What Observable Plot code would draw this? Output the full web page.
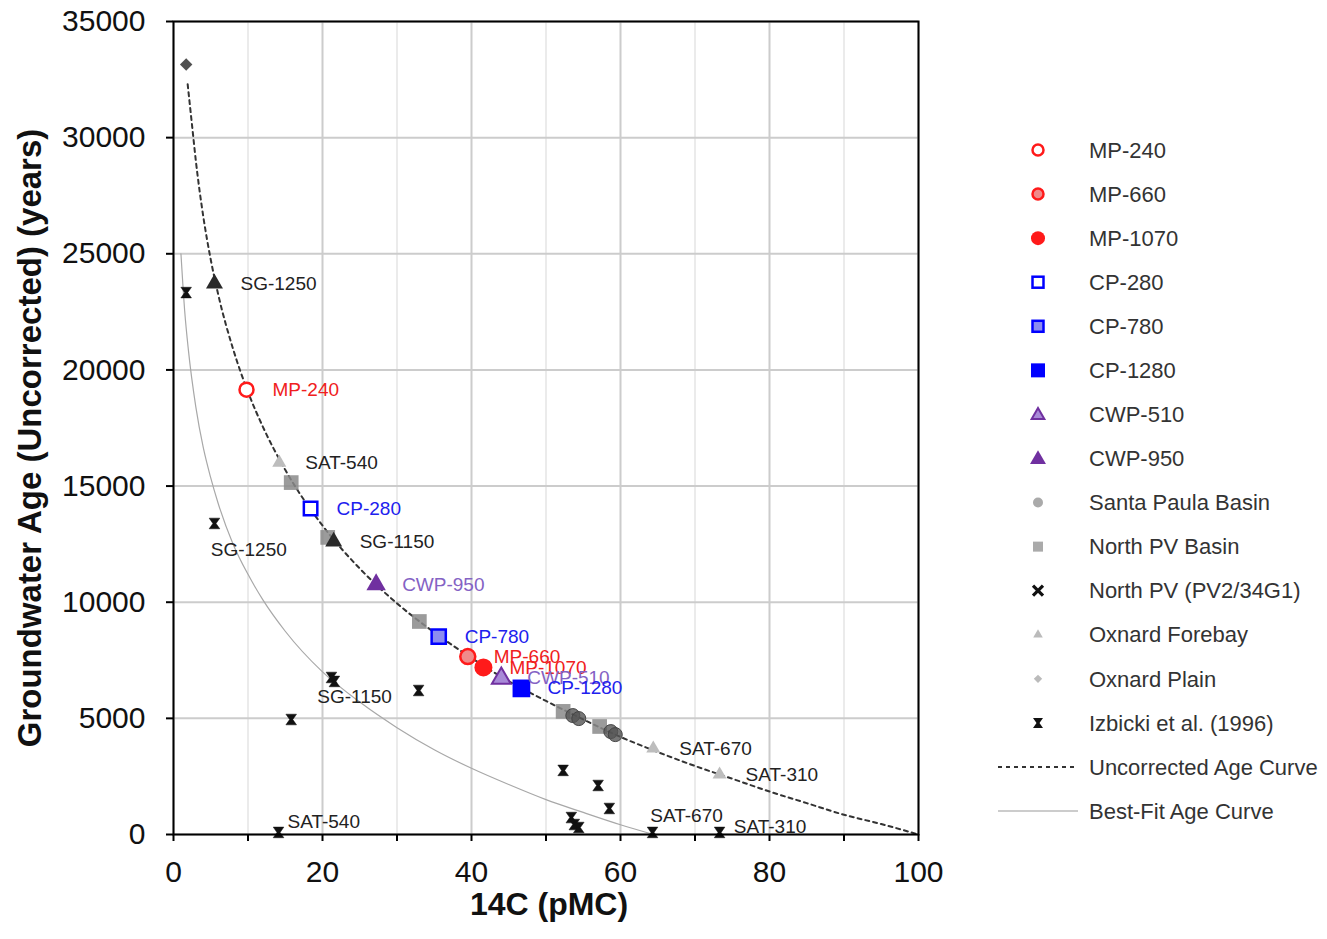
<!DOCTYPE html>
<html>
<head>
<meta charset="utf-8">
<script src="https://cdn.jsdelivr.net/npm/d3@7"></script>
<script src="https://cdn.jsdelivr.net/npm/@observablehq/plot@0.6"></script>
<style>
  html, body { margin: 0; padding: 0; background: white; }
  #wrap { position: relative; width: 1327px; height: 939px; font-family: "Liberation Sans", Arial, sans-serif; }
  #chart { position: absolute; left: 0; top: 0; }
  #legend { position: absolute; left: 990px; top: 0; }
</style>
</head>
<body>
<div id="wrap"><div id="chart"></div><svg id="legend" width="337" height="939"></svg></div>
<script>
// ---------- data: [14C pMC, age years] ----------
const mp240   = [[9.8, 19150]];
const mp660   = [[39.5, 7660]];
const mp1070  = [[41.6, 7190]];
const cp280   = [[18.4, 14030]];
const cp780   = [[35.6, 8520]];
const cp1280  = [[46.7, 6290]];
const cwp510  = [[44.0, 6720]];
const cwp950  = [[27.2, 10760]];
const santaPaulaBasin = [[53.6, 5120], [54.4, 4990], [58.7, 4430], [59.3, 4300]];
const northPVBasin    = [[15.8, 15150], [20.7, 12790], [33.0, 9170], [52.3, 5300], [57.2, 4650]];
const oxnardForebay   = [[14.2, 16010], [64.4, 3700], [73.3, 2580]];
const oxnardForebayNames = ["SAT-540", "SAT-670", "SAT-310"];
const oxnardPlain     = [[1.7, 33150]];
const sgWells         = [[5.5, 23720], [21.5, 12610]];
const sgWellNames     = ["SG-1250", "SG-1150"];
const izbicki = [[1.7, 23330], [5.5, 13390], [21.2, 6760], [21.6, 6590], [15.8, 4950], [32.9, 6200],
                 [52.3, 2760], [57.0, 2110], [58.5, 1120], [53.4, 730], [53.8, 430], [54.4, 300],
                 [14.1, 90], [64.3, 90], [73.3, 90]];
const izbickiLabelNames = ["SG-1250", "SG-1150", "SAT-540", "SAT-670", "SAT-310"];
const izbickiLabelPos   = [[5.0, 12270], [19.3, 5940], [15.3, 560], [64.0, 820], [75.2, 340]];

const uncorrectedCurve = [[1.9, 32300], [2.5, 30500], [3, 29000], [4, 26600], [5, 24750], [6, 23250],
  [8, 20900], [10, 19050], [12, 17550], [15, 15700], [20, 13300], [25, 11450], [30, 9950], [35, 8700],
  [40, 7600], [45, 6600], [50, 5750], [55, 4950], [60, 4200], [65, 3550], [70, 2950], [75, 2400],
  [80, 1850], [85, 1350], [90, 850], [95, 450], [100, 0]];
const bestFitCurve = [[1, 25000], [1.5, 22550], [2, 20850], [3, 18400], [4, 16650], [5, 15350], [6, 14250],
  [8, 12500], [10, 11200], [12, 10100], [15, 8750], [20, 7000], [25, 5700], [30, 4600], [35, 3650],
  [40, 2850], [45, 2150], [50, 1500], [55, 950], [60, 420], [64, 40]];

const xTicks = [0, 10, 20, 30, 40, 50, 60, 70, 80, 90, 100];
const yTicks = [0, 5000, 10000, 15000, 20000, 25000, 30000, 35000];

const legendNames = ["MP-240", "MP-660", "MP-1070", "CP-280", "CP-780", "CP-1280", "CWP-510", "CWP-950",
  "Santa Paula Basin", "North PV Basin", "North PV (PV2/34G1)", "Oxnard Forebay", "Oxnard Plain",
  "Izbicki et al. (1996)", "Uncorrected Age Curve", "Best-Fit Age Curve"];

// ---------- helpers ----------
const RED = "#ff1a1a", BLUE = "#0000ff", PURPLE = "#7030a0";
const hourglass = {
  draw(ctx, size) {
    const s = Math.sqrt(size) / 2;
    ctx.moveTo(-s, -s); ctx.lineTo(s, -s); ctx.lineTo(s * 0.3, 0);
    ctx.lineTo(s, s); ctx.lineTo(-s, s); ctx.lineTo(-s * 0.3, 0); ctx.closePath();
  }
};
const X = d => d[0], Y = d => d[1];

function mainLabel(arr, name, color) {
  return Plot.text(arr, {x: X, y: Y, text: () => name, dx: 26, textAnchor: "start", fill: color, fontSize: 19});
}

const chart = Plot.plot({
  width: 990, height: 939,
  marginLeft: 173, marginRight: 72, marginTop: 21, marginBottom: 105,
  style: {fontFamily: "'Liberation Sans', Arial, sans-serif", background: "white", color: "#111"},
  x: {domain: [0, 100]},
  y: {domain: [0, 35000]},
  marks: [
    Plot.gridX(xTicks.filter(d => d % 20 !== 0), {stroke: "#e4e4e4", strokeOpacity: 1, strokeWidth: 1.5}),
    Plot.gridX(xTicks.filter(d => d % 20 === 0), {stroke: "#cccccc", strokeOpacity: 1, strokeWidth: 2}),
    Plot.gridY(yTicks, {stroke: "#cccccc", strokeOpacity: 1, strokeWidth: 2}),
    Plot.line(bestFitCurve, {x: X, y: Y, stroke: "#a8a8a8", strokeWidth: 1.2, curve: "monotone-x"}),
    Plot.line(uncorrectedCurve, {x: X, y: Y, stroke: "#333", strokeWidth: 2, strokeDasharray: "4,4", curve: "monotone-x"}),
    // data points
    Plot.dot(izbicki, {x: X, y: Y, symbol: hourglass, r: 6, fill: "#111", stroke: "#111", strokeWidth: 0.5}),
    Plot.dot(oxnardPlain, {x: X, y: Y, symbol: "diamond2", r: 5.6, fill: "#505050"}),
    Plot.dot(oxnardForebay, {x: X, y: Y, symbol: "triangle", r: 5.2, fill: "#bdbdbd"}),
    Plot.dot(northPVBasin, {x: X, y: Y, symbol: "square", r: 8.3, fill: "#8a8a8a", fillOpacity: 0.85}),
    Plot.dot(santaPaulaBasin, {x: X, y: Y, symbol: "circle", r: 7, fill: "#555", fillOpacity: 0.8, stroke: "#444", strokeWidth: 1}),
    Plot.dot(sgWells, {x: X, y: Y, symbol: "triangle", r: 6.3, fill: "#2a2a2a"}),
    Plot.dot(cwp950, {x: X, y: Y, symbol: "triangle", r: 7.2, fill: PURPLE}),
    Plot.dot(cp280, {x: X, y: Y, symbol: "square", r: 7.6, fill: "white", stroke: BLUE, strokeWidth: 2.5}),
    Plot.dot(cp780, {x: X, y: Y, symbol: "square", r: 8, fill: "#8c8cf0", stroke: BLUE, strokeWidth: 2.5}),
    Plot.dot(mp240, {x: X, y: Y, symbol: "circle", r: 7, fill: "white", stroke: RED, strokeWidth: 2.5}),
    Plot.dot(mp660, {x: X, y: Y, symbol: "circle", r: 7.5, fill: "#f08a8a", stroke: RED, strokeWidth: 2.5}),
    Plot.dot(mp1070, {x: X, y: Y, symbol: "circle", r: 9, fill: RED}),
    Plot.dot(cwp510, {x: X, y: Y, symbol: "triangle", r: 7, fill: "#a88ad8", stroke: PURPLE, strokeWidth: 2}),
    Plot.dot(cp1280, {x: X, y: Y, symbol: "square", r: 10, fill: BLUE}),
    // labels
    Plot.text(sgWells, {x: X, y: Y, text: (d, i) => sgWellNames[i], dx: 26, textAnchor: "start", fill: "#222", fontSize: 19}),
    Plot.text(oxnardForebay, {x: X, y: Y, text: (d, i) => oxnardForebayNames[i], dx: 26, textAnchor: "start", fill: "#222", fontSize: 19}),
    mainLabel(mp240, "MP-240", "#f02020"),
    mainLabel(cp280, "CP-280", "#2020ee"),
    mainLabel(cwp950, "CWP-950", "#8462c4"),
    mainLabel(cp780, "CP-780", "#2020ee"),
    mainLabel(mp660, "MP-660", "#f02020"),
    mainLabel(mp1070, "MP-1070", "#f02020"),
    mainLabel(cwp510, "CWP-510", "#8462c4"),
    mainLabel(cp1280, "CP-1280", "#2020ee"),
    Plot.text(izbickiLabelPos, {x: X, y: Y, text: (d, i) => izbickiLabelNames[i], textAnchor: "start", fill: "#222", fontSize: 19}),
    Plot.frame({stroke: "black", strokeWidth: 2}),
    Plot.axisX(xTicks, {tickFormat: d => d % 20 === 0 ? String(d) : "", tickSize: 7, tickPadding: 19,
      fontSize: 30, label: null, strokeWidth: 2, stroke: "black"}),
    Plot.axisY(yTicks, {tickFormat: d => String(d), tickSize: 7, tickPadding: 21,
      fontSize: 30, label: null, strokeWidth: 2, stroke: "black"}),
    Plot.text(["Groundwater Age (Uncorrected) (years)"], {frameAnchor: "left", textAnchor: "middle",
      dx: -143, dy: 10, rotate: -90, fontSize: 33, fontWeight: "bold", fill: "#111"}),
    Plot.text(["14C (pMC)"], {frameAnchor: "bottom", textAnchor: "middle", dy: 80, dx: 3,
      fontSize: 32, fontWeight: "bold", fill: "#111"})
  ]
});
document.getElementById("chart").appendChild(chart);

// ---------- legend (beside the chart) ----------
const leg = d3.select("#legend");
const mx = 48, tx = 99;
const sym = (type, area) => d3.symbol(type, area)();
const markers = [
  g => g.append("circle").attr("r", 5.5).attr("fill", "white").attr("stroke", RED).attr("stroke-width", 2.5),
  g => g.append("circle").attr("r", 5.5).attr("fill", "#f08a8a").attr("stroke", RED).attr("stroke-width", 2.5),
  g => g.append("circle").attr("r", 7).attr("fill", RED),
  g => g.append("rect").attr("x", -5.5).attr("y", -5.5).attr("width", 11).attr("height", 11).attr("fill", "white").attr("stroke", BLUE).attr("stroke-width", 2.5),
  g => g.append("rect").attr("x", -5.5).attr("y", -5.5).attr("width", 11).attr("height", 11).attr("fill", "#8c8cf0").attr("stroke", BLUE).attr("stroke-width", 2.5),
  g => g.append("rect").attr("x", -7).attr("y", -7).attr("width", 14).attr("height", 14).attr("fill", BLUE),
  g => g.append("path").attr("d", sym(d3.symbolTriangle, 70)).attr("transform", "translate(0,1)").attr("fill", "#a88ad8").attr("stroke", PURPLE).attr("stroke-width", 2),
  g => g.append("path").attr("d", sym(d3.symbolTriangle, 110)).attr("transform", "translate(0,1)").attr("fill", PURPLE),
  g => g.append("circle").attr("r", 5).attr("fill", "#aaa"),
  g => g.append("rect").attr("x", -5).attr("y", -5).attr("width", 10).attr("height", 10).attr("fill", "#aaa"),
  g => { g.append("path").attr("d", "M-5,-5L5,5M5,-5L-5,5").attr("stroke", "#111").attr("stroke-width", 3.2); },
  g => g.append("path").attr("d", sym(d3.symbolTriangle, 40)).attr("fill", "#bbb"),
  g => g.append("path").attr("d", sym(d3.symbolDiamond2, 45)).attr("fill", "#bbb"),
  g => g.append("path").attr("d", sym(hourglass, 100)).attr("fill", "#111"),
  g => g.append("line").attr("x1", 8 - mx).attr("x2", 88 - mx).attr("stroke", "#333").attr("stroke-width", 2).attr("stroke-dasharray", "4,4"),
  g => g.append("line").attr("x1", 8 - mx).attr("x2", 88 - mx).attr("stroke", "#bbb").attr("stroke-width", 1.5)
];
legendNames.forEach((name, i) => {
  const y = 150 + i * 44.07;
  const g = leg.append("g").attr("transform", `translate(${mx},${y})`);
  markers[i](g);
  leg.append("text").attr("x", tx).attr("y", y).attr("dy", "0.35em")
    .attr("font-family", "'Liberation Sans', Arial, sans-serif").attr("font-size", 22)
    .attr("fill", "#333").text(name);
});
</script>
</body>
</html>
